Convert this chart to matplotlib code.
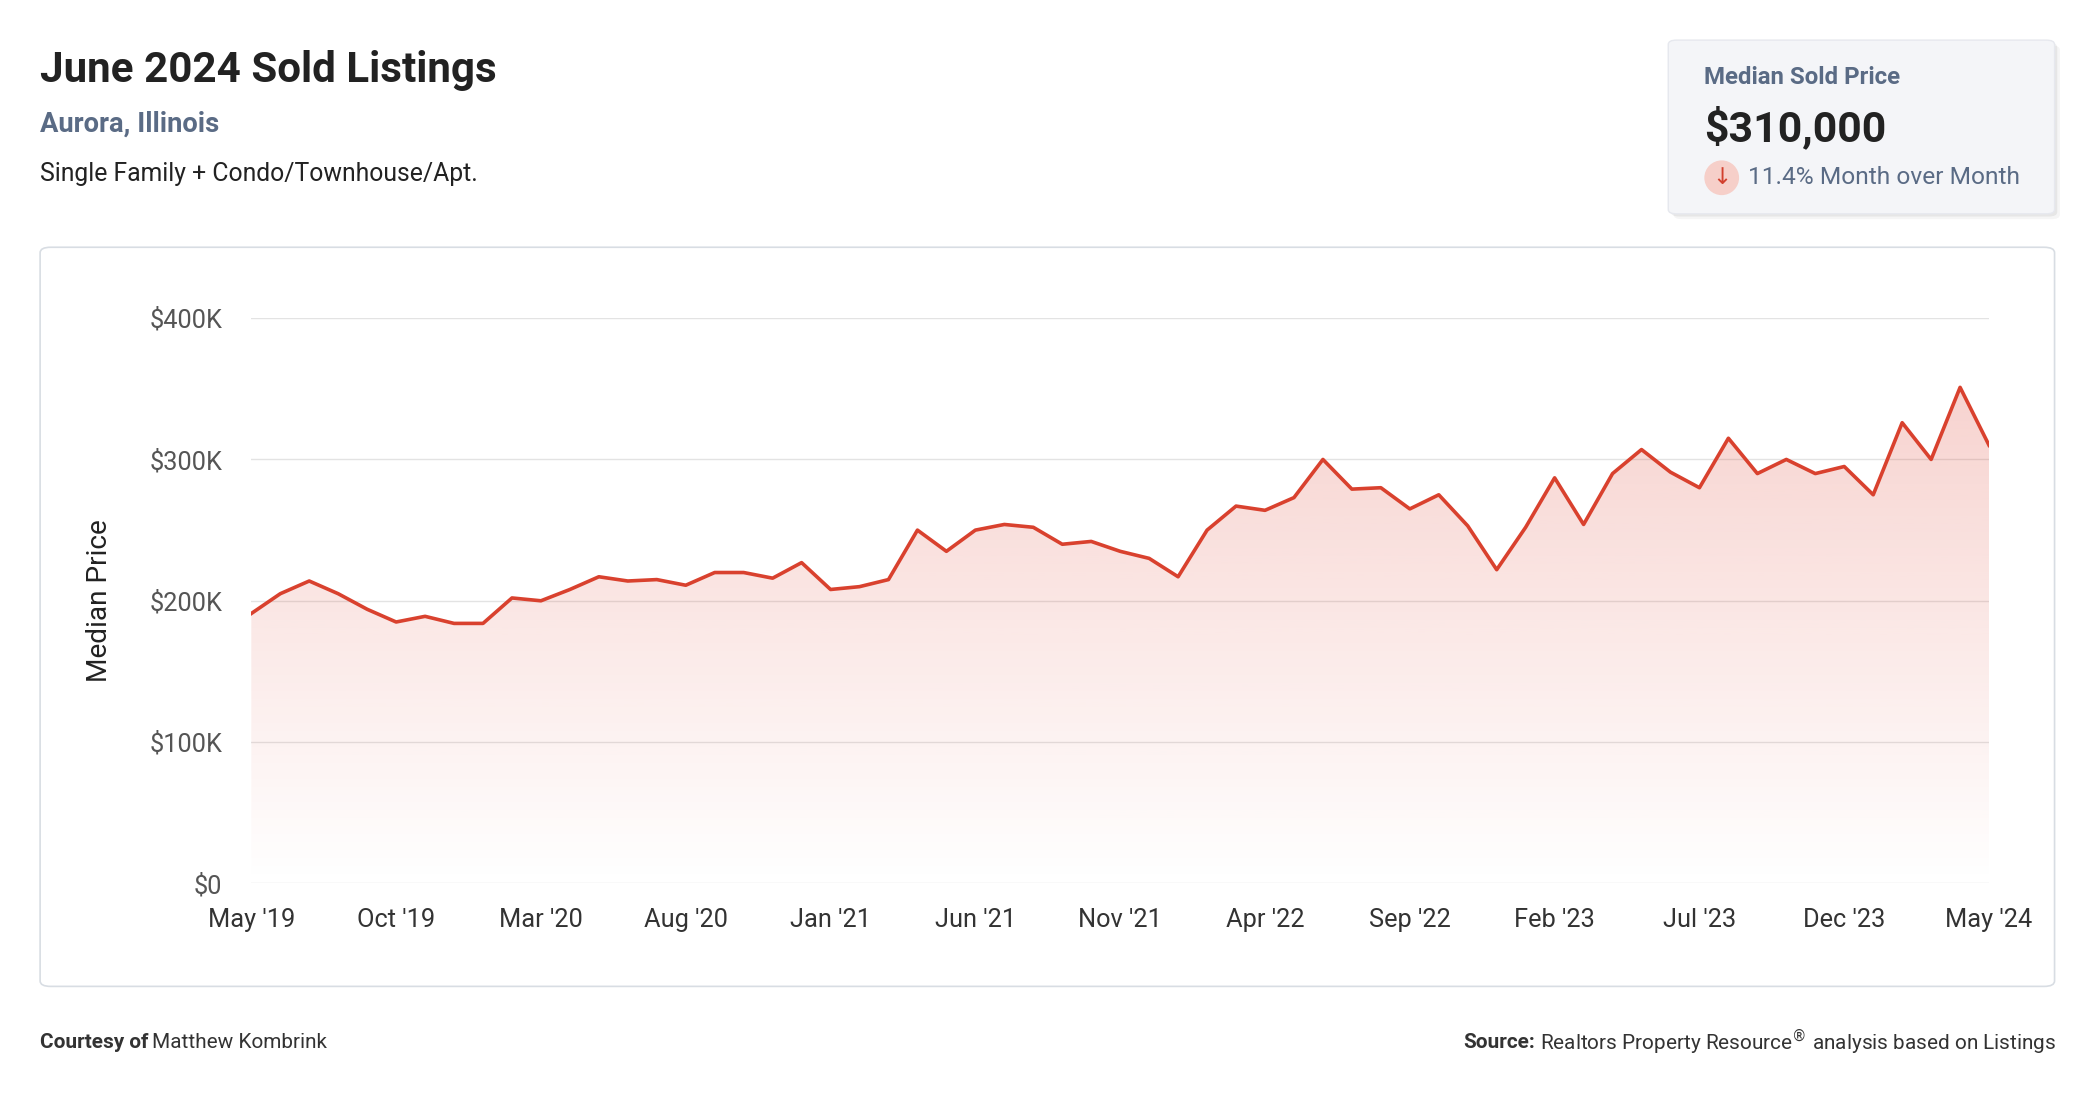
import matplotlib
matplotlib.use("Agg")
import matplotlib.pyplot as plt
import numpy as np
from matplotlib.patches import FancyBboxPatch, Polygon, Ellipse

months = ["May '19","Jun '19","Jul '19","Aug '19","Sep '19","Oct '19","Nov '19","Dec '19",
          "Jan '20","Feb '20","Mar '20","Apr '20","May '20","Jun '20","Jul '20","Aug '20",
          "Sep '20","Oct '20","Nov '20","Dec '20","Jan '21","Feb '21","Mar '21","Apr '21",
          "May '21","Jun '21","Jul '21","Aug '21","Sep '21","Oct '21","Nov '21","Dec '21",
          "Jan '22","Feb '22","Mar '22","Apr '22","May '22","Jun '22","Jul '22","Aug '22",
          "Sep '22","Oct '22","Nov '22","Dec '22","Jan '23","Feb '23","Mar '23","Apr '23",
          "May '23","Jun '23","Jul '23","Aug '23","Sep '23","Oct '23","Nov '23","Dec '23",
          "Jan '24","Feb '24","Mar '24","Apr '24","May '24"]
prices_k = [191,205,214,205,194,185,189,184,184,202,200,208,217,214,215,211,220,220,216,227,
            208,210,215,250,235,250,254,252,240,242,235,230,217,250,267,264,273,300,279,280,
            265,275,253,222,252,287,254,290,307,291,280,315,290,300,290,295,275,326,300,351,310]
yticks = [0,100000,200000,300000,400000]
ytick_labels = ["$0","$100K","$200K","$300K","$400K"]

plt.rcParams['font.family'] = ['Roboto', 'DejaVu Sans']
W, H = 1568, 823
fig = plt.figure(figsize=(20.96, 11.0), dpi=100)
def fx(px): return px / W
def fy(py): return 1 - py / H
S = 0.9626
FS = 15.5*S

fig.text(fx(30), fy(53), "June 2024 Sold Listings", fontsize=31.5*S, fontweight='bold', color='#222222', va='center')
fig.text(fx(30), fy(93), "Aurora, Illinois", fontsize=20.5*S, fontweight='bold', color='#5a6b85', va='center')
fig.text(fx(30), fy(130), "Single Family + Condo/Townhouse/Apt.", fontsize=18.5*S, color='#222222', va='center')
fig.text(fx(30), fy(780), "Courtesy of", fontsize=FS, fontweight='bold', color='#333333', va='center')
fig.text(fx(114), fy(780), "Matthew Kombrink", fontsize=FS, color='#333333', va='center')
fig.text(fx(1538), fy(780), "Realtors Property Resource$^{®}$ analysis based on Listings",
         fontsize=FS, color='#333333', va='center', ha='right')
fig.text(fx(1148), fy(780), "Source:", fontsize=FS, fontweight='bold', color='#333333', va='center', ha='right')

for d, a in [(4, 0.04), (2, 0.06)]:
    fig.patches.append(FancyBboxPatch((fx(1248 + d), fy(160 + d)), fx(289), fy(30) - fy(160),
                       boxstyle="round,pad=0,rounding_size=0.004", transform=fig.transFigure,
                       facecolor='black', alpha=a, edgecolor='none', zorder=0))
fig.patches.append(FancyBboxPatch((fx(1248), fy(160)), fx(289), fy(30) - fy(160),
                   boxstyle="round,pad=0,rounding_size=0.004", transform=fig.transFigure,
                   facecolor='#f4f5f8', edgecolor='#e6e8ee', zorder=1))
fig.text(fx(1275), fy(58), "Median Sold Price", fontsize=18*S, fontweight='bold', color='#5a6b85', va='center', zorder=2)
fig.text(fx(1275), fy(96), "$310,000", fontsize=32*S, fontweight='bold', color='#222222', va='center', zorder=2)
r = 13
fig.patches.append(Ellipse((fx(1288), fy(133)), fx(2*r), 2*r/H, transform=fig.transFigure,
                           facecolor='#f6cfc9', edgecolor='none', zorder=2))
fig.text(fx(1288), fy(133), "↓", fontsize=17*S, color='#d2402e', ha='center', va='center', zorder=3,
         family=['DejaVu Sans'])
fig.text(fx(1308), fy(133), "11.4% Month over Month", fontsize=18.3*S, color='#5a6b85', va='center', zorder=2)

fig.patches.append(FancyBboxPatch((fx(30), fy(738)), fx(1507), fy(185) - fy(738),
                   boxstyle="round,pad=0,rounding_size=0.005", transform=fig.transFigure,
                   facecolor='white', edgecolor='#d8dde3', linewidth=1.2, zorder=0))

ax = fig.add_axes([fx(188), fy(661), fx(1300), fy(238) - fy(661)])
ax.set_zorder(5)
ax.patch.set_alpha(0)
x = np.arange(len(months))
y = np.array(prices_k) * 1000
ax.set_xlim(0, len(months) - 1)
ax.set_ylim(0, 400000)

grad = np.zeros((256, 1, 4))
grad[..., 0] = 0xe0/255; grad[..., 1] = 0x4a/255; grad[..., 2] = 0x3a/255
grad[:, 0, 3] = np.linspace(0.0, 0.25, 256)
im = ax.imshow(grad, aspect='auto', extent=[0, len(months)-1, 0, 360000], origin='lower', zorder=1)
poly = Polygon(np.column_stack([np.r_[x, x[-1], 0], np.r_[y, 0, 0]]), closed=True, transform=ax.transData,
               facecolor='none', edgecolor='none')
ax.add_patch(poly)
im.set_clip_path(poly)
ax.plot(x, y, color='#d9412e', linewidth=2.6, zorder=3)

ax.set_yticks(yticks)
ax.set_yticklabels(ytick_labels)
ax.set_xticks(x[::5])
ax.set_xticklabels([months[i] for i in range(0, len(months), 5)])
ax.grid(axis='y', color='#e3e3e3', linewidth=1)
ax.set_axisbelow(True)
for s in ax.spines.values():
    s.set_visible(False)
ax.tick_params(axis='both', length=0, labelsize=19*S)
ax.tick_params(axis='y', pad=21, labelcolor='#555555')
ax.tick_params(axis='x', pad=18, labelcolor='#333333')
ax.set_ylabel("Median Price", fontsize=21*S, color='#222222', labelpad=26)
fig.savefig("out.png", dpi=100)
